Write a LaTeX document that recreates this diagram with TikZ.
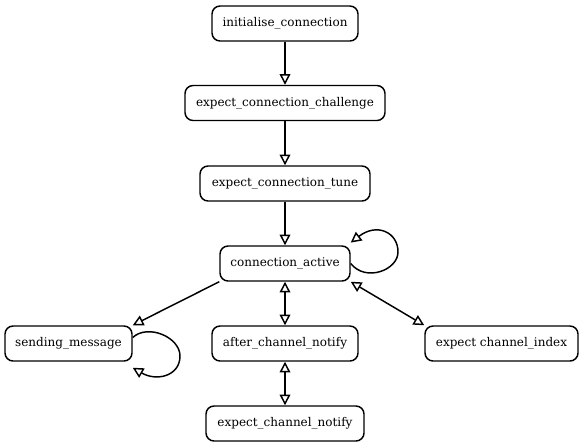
\documentclass[tikz,border=0pt]{standalone}
\usepackage{fontspec}
\setmainfont{DejaVu Serif}
\usetikzlibrary{arrows.meta}
\begin{document}
\begin{tikzpicture}[x=0.75pt,y=-0.75pt,
  state/.style={draw,line width=1.1pt,rounded corners=6pt,minimum height=26.25pt,inner xsep=4pt,font=\fontsize{9}{11}\selectfont},
  edge/.style={line width=1.1pt,-{Triangle[open,length=8pt,width=8pt]}},
  bedge/.style={line width=1.1pt,{Triangle[open,length=8pt,width=8pt]}-{Triangle[open,length=8pt,width=8pt]}}]
\useasboundingbox (0,0) rectangle (586,447);
\node[state,minimum width=109.5pt] (ic) at (285,23.5) {initialise\_connection};
\node[state,minimum width=150pt] (ecc) at (285,103) {expect\_connection\_challenge};
\node[state,minimum width=127.5pt] (ect) at (285,183.5) {expect\_connection\_tune};
\node[state,minimum width=97.5pt] (ca) at (285,263.5) {connection\_active};
\node[state,minimum width=95.25pt] (sm) at (68.5,343.5) {sending\_message};
\node[state,minimum width=109.5pt] (acn) at (285,343.5) {after\_channel\_notify};
\node[state,minimum width=114.75pt] (eci) at (501.5,343.5) {expect channel\_index};
\node[state,minimum width=118.5pt] (ecn) at (285,423.5) {expect\_channel\_notify};
\coordinate (caloop) at (398,252);
\coordinate (smloop) at (180,356);
\draw[edge] (ic) -- (ecc);
\draw[edge] (ecc) -- (ect);
\draw[edge] (ect) -- (ca);
\draw[edge] (ca.south west) -- (sm.north east);
\draw[bedge] (ca) -- (acn);
\draw[bedge] (ca.south east) -- (eci.north west);
\draw[bedge] (acn) -- (ecn);
\draw[edge] (ca.east) .. controls +(15,19) and +(0,18) .. (caloop) .. controls +(0,-20) and +(26,-20) .. ([yshift=2pt]ca.north east);
\draw[edge] ([yshift=4.5pt]sm.east) .. controls +(15,-14) and +(0,-19) .. (smloop) .. controls +(0,20) and +(24,14) .. ([yshift=-4.5pt]sm.south east);
\end{tikzpicture}
\end{document}
